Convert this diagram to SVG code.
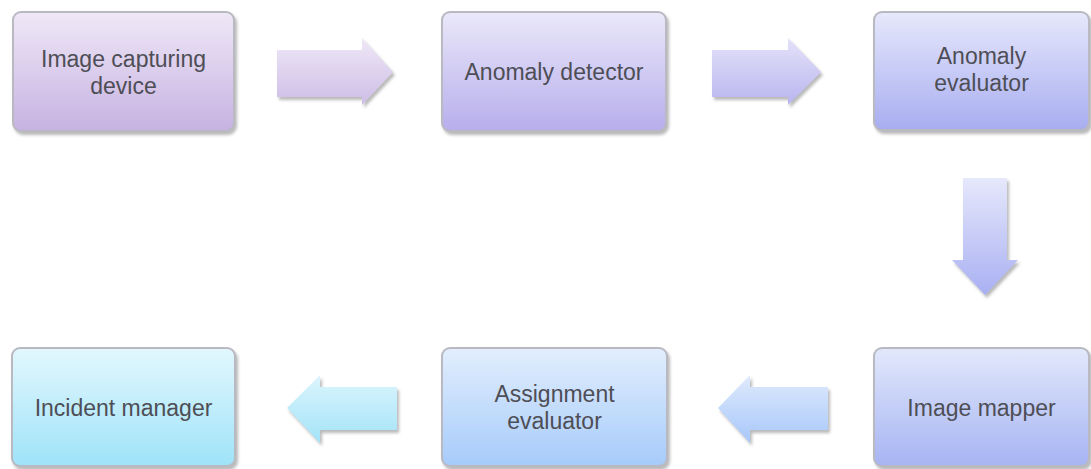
<svg xmlns="http://www.w3.org/2000/svg" width="1091" height="469" viewBox="0 0 1091 469">
<defs>
<filter id="sh" x="-10%" y="-10%" width="125%" height="130%">
<feDropShadow dx="2" dy="3" stdDeviation="1.8" flood-color="#808080" flood-opacity="0.55"/>
</filter>
<linearGradient id="g1" x1="0" y1="0" x2="0" y2="1"><stop offset="0" stop-color="#efe8f7"/><stop offset="1" stop-color="#c7b2e1"/></linearGradient>
<linearGradient id="g2" x1="0" y1="0" x2="0" y2="1"><stop offset="0" stop-color="#eae8f9"/><stop offset="1" stop-color="#b7aeec"/></linearGradient>
<linearGradient id="g3" x1="0" y1="0" x2="0" y2="1"><stop offset="0" stop-color="#e6e8fb"/><stop offset="1" stop-color="#a8adf0"/></linearGradient>
<linearGradient id="g6" x1="0" y1="0" x2="0" y2="1"><stop offset="0" stop-color="#e2e8fb"/><stop offset="1" stop-color="#a6b4f3"/></linearGradient>
<linearGradient id="g5" x1="0" y1="0" x2="0" y2="1"><stop offset="0" stop-color="#e2eefd"/><stop offset="1" stop-color="#a6cbfa"/></linearGradient>
<linearGradient id="g4" x1="0" y1="0" x2="0" y2="1"><stop offset="0" stop-color="#e2f7fd"/><stop offset="1" stop-color="#9fe3f9"/></linearGradient>
<linearGradient id="a1" x1="0" y1="0" x2="0" y2="1"><stop offset="0" stop-color="#efe8f7"/><stop offset="1" stop-color="#cdbde6"/></linearGradient>
<linearGradient id="a2" x1="0" y1="0" x2="0" y2="1"><stop offset="0" stop-color="#e4e2f9"/><stop offset="1" stop-color="#b9b5ef"/></linearGradient>
<linearGradient id="a3" x1="0" y1="0" x2="0" y2="1"><stop offset="0" stop-color="#e6e8fb"/><stop offset="1" stop-color="#a9b0f2"/></linearGradient>
<linearGradient id="a4" x1="0" y1="0" x2="0" y2="1"><stop offset="0" stop-color="#dfeafc"/><stop offset="1" stop-color="#a7c7fa"/></linearGradient>
<linearGradient id="a5" x1="0" y1="0" x2="0" y2="1"><stop offset="0" stop-color="#dcf5fd"/><stop offset="1" stop-color="#a3e3f8"/></linearGradient>
</defs>
<style>
.box{stroke:#b9b9c2;stroke-width:2;filter:url(#sh)}
.arr{filter:url(#sh)}
.t{font-family:"Liberation Sans",Arial,sans-serif;font-size:23px;fill:#4e4e56;text-anchor:middle}
</style>
<g id="connectors">
<polygon class="arr" fill="url(#a1)" points="277,50 362,50 362,38 393,72 362,105 362,97 277,97"/>
<polygon class="arr" fill="url(#a2)" points="712,50 788,50 788,38 821,72 788,105 788,97 712,97"/>
<polygon class="arr" fill="url(#a3)" points="963,178 1007,178 1007,260 1018,260 985,295 952,260 963,260"/>
<polygon class="arr" fill="url(#a4)" points="828,387 750,387 750,375 718,408 750,443 750,430 828,430"/>
<polygon class="arr" fill="url(#a5)" points="397,387 320,387 320,375 287,408 320,443 320,430 397,430"/>
</g>
<g id="n1">
<rect class="box" x="13" y="12" width="221" height="119" rx="8" fill="url(#g1)"/>
<text class="t" x="123.5" y="67">Image capturing</text>
<text class="t" x="123.5" y="94">device</text>
</g>
<g id="n2">
<rect class="box" x="442" y="12" width="224" height="119" rx="8" fill="url(#g2)"/>
<text class="t" x="554" y="80">Anomaly detector</text>
</g>
<g id="n3">
<rect class="box" x="874" y="12" width="215" height="118" rx="8" fill="url(#g3)"/>
<text class="t" x="981.5" y="64">Anomaly</text>
<text class="t" x="981.5" y="91">evaluator</text>
</g>
<g id="n6">
<rect class="box" x="874" y="348" width="215" height="118" rx="8" fill="url(#g6)"/>
<text class="t" x="981.5" y="416">Image mapper</text>
</g>
<g id="n5">
<rect class="box" x="442" y="348" width="225" height="118" rx="8" fill="url(#g5)"/>
<text class="t" x="554.5" y="402">Assignment</text>
<text class="t" x="554.5" y="429">evaluator</text>
</g>
<g id="n4">
<rect class="box" x="12" y="348" width="223" height="118" rx="8" fill="url(#g4)"/>
<text class="t" x="123.5" y="416">Incident manager</text>
</g>
</svg>
